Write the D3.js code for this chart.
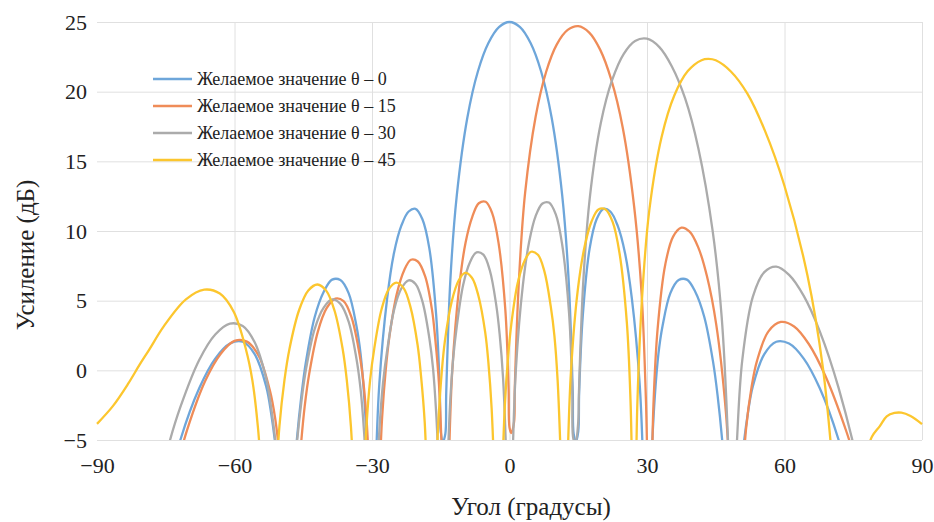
<!DOCTYPE html>
<html>
<head>
<meta charset="utf-8">
<script src="https://cdn.jsdelivr.net/npm/d3@7"></script>
<style>
	body { margin: 0; background: #fff; }
	svg text { font-family: "Liberation Serif", "Times New Roman", serif !important; fill: #222; }
</style>
</head>
<body>
<div id="visDiv"></div>
<script>
// legend labels, one per series
var seriesNames = ['Желаемое значение θ – 0', 'Желаемое значение θ – 15', 'Желаемое значение θ – 30', 'Желаемое значение θ – 45'];
var xTicks = [-90, -60, -30, 0, 30, 60, 90];
var yTicks = [-5, 0, 5, 10, 15, 20, 25];

// [angle (deg), gain (dB)]; values under -5 are clipped away
var gain0 = [[-90,-20],[-77.2,-11.9],[-71.8,-4.98],[-67.7,-1.29],[-64.2,0.84],[-61,1.92],[-58.2,2.05],[-55.6,1.16],[-53.1,-1.14],[-52,-3.1],[-50.8,-6.2],[-48.6,-15],
	[-46.5,-5.37],[-45.4,-1.8],[-44.4,0.64],[-42.5,3.83],[-40.5,5.66],[-38.7,6.51],[-36.9,6.48],[-35.1,5.54],[-33.4,3.2],[-32.5,1.2],[-31.7,-1.9],[-30.8,-7.6],[-30,-15],
	[-29.2,-7.1],[-28.4,-0.97],[-26.7,5.14],[-25.2,8.42],[-23.6,10.38],[-22,11.4],[-20.5,11.59],[-19,10.84],[-17.5,8.77],[-16,3.96],[-15.2,-1.54],[-15,-4.4],[-14.5,-5.1],[-14,-4.56],
	[-13.8,-1.56],[-12.9,6.51],[-11.5,12.56],[-9.2,18.13],[-6.9,21.45],[-4.6,23.49],[-2.3,24.63],[0,25],[2.3,24.63],[4.6,23.49],[6.9,21.45],[9.2,18.13],[11.5,12.56],[12.9,6.51],[13.8,-1.56],
	[14,-4.56],[14.5,-5.1],[15,-4.4],[15.2,-1.54],[16,3.96],[17.5,8.77],[19,10.84],[20.5,11.59],[22,11.4],[23.6,10.38],[25.2,8.42],[26.7,5.14],[28.4,-0.97],[29.2,-7.1],[30,-15],
	[30.8,-7.6],[31.7,-1.9],[32.5,1.2],[33.4,3.2],[35.1,5.54],[36.9,6.48],[38.7,6.51],[40.5,5.66],[42.5,3.83],[44.4,0.64],[45.4,-1.8],[46.5,-5.37],[48.6,-15],
	[50.8,-6.2],[52,-3.1],[53.1,-1.14],[55.6,1.16],[58.2,2.05],[61,1.92],[64.2,0.84],[67.7,-1.29],[71.8,-4.98],[77.2,-11.9],[90,-20]];

var gain15 = [[-90,-23.5],[-82.3,-15],[-75.1,-10.75],[-72.5,-6.84],[-70.3,-4.24],[-66.4,-0.77],[-63,1.19],[-60,2.11],[-57.3,2.06],[-54.7,1.03],[-52.3,-1.42],[-51.1,-3.5],[-50,-6.7],[-47.8,-15],
	[-45.7,-6.11],[-44.7,-2.63],[-43.7,-0.25],[-41.8,2.8],[-39.9,4.46],[-38,5.15],[-36.2,4.97],[-34.5,3.83],[-32.8,1.3],[-31.9,-0.78],[-31.1,-3.98],[-30.3,-9.8],[-29.4,-15],
	[-28.6,-9.5],[-27.8,-3.42],[-27,0.05],[-26.2,2.42],[-24.6,5.47],[-23,7.17],[-21.5,7.94],[-20,7.81],[-18.4,6.74],[-16.9,4.32],[-16.2,2.25],[-15.4,-0.9],[-14.7,-6.6],[-13.95,-15],
	[-13.2,-6.2],[-12.5,-0.1],[-11,5.91],[-9.6,9.14],[-8.1,11.03],[-6.7,11.99],[-5.2,12.1],[-3.8,11.3],[-2.4,9.17],[-0.9,4.3],[-0.2,-1.23],[0,-4.1],[0.4,-4.5],[1,-3.7],[1.15,-1.3],
	[2.1,6.72],[3.4,12.71],[5.7,18.2],[8,21.43],[10.3,23.38],[12.7,24.43],[15,24.7],[17.4,24.24],[19.8,23],[22.2,20.86],[24.7,17.43],[27.2,11.74],[28.8,5.62],[29.8,-2.49],[30.6,-15],
	[31.1,-6.7],[31.4,-2.53],[32.3,2.92],[34,7.62],[35.7,9.6],[37.5,10.24],[39.3,9.95],[41.2,8.81],[43.1,6.73],[45.1,3.3],[47.2,-2.95],[48.3,-9.2],[49.4,-15],
	[50.5,-9.8],[51.6,-4.23],[52.8,-1.23],[54,0.68],[56.5,2.8],[59.2,3.47],[62.1,3.15],[65.3,1.89],[69,-0.46],[73.5,-4.39],[76.3,-7.38],[79.7,-11.6],[90,-23.5]];

var gain30 = [[-90,-20],[-77.2,-9.2],[-74.3,-5.28],[-71.8,-2.63],[-67.7,0.74],[-64.2,2.57],[-61,3.35],[-58.2,3.18],[-55.6,2.01],[-53.1,-0.57],[-52,-2.68],[-50.8,-5.95],[-48.6,-15],
	[-46.5,-5.65],[-45.4,-2.24],[-44.4,0.07],[-42.5,2.98],[-40.5,4.52],[-38.7,5.09],[-36.9,4.77],[-35.1,3.5],[-33.4,0.85],[-32.5,-1.33],[-31.7,-4.58],[-30.8,-10.4],[-30,-15],
	[-29.2,-10.3],[-28.4,-4.33],[-27.6,-0.91],[-26.7,1.41],[-25.2,4.32],[-23.6,5.87],[-22,6.46],[-20.5,6.19],[-19,4.95],[-17.5,2.34],[-16.7,0.2],[-16,-3.04],[-15.2,-8.9],[-14.5,-15],
	[-13.7,-8.65],[-13,-2.64],[-12.3,0.81],[-11.5,3.15],[-10.1,6.15],[-8.6,7.78],[-7.2,8.47],[-5.7,8.3],[-4.3,7.18],[-2.9,4.7],[-2.15,2.6],[-1.4,-0.58],[-0.7,-6.33],[0,-15],
	[0.7,-6],[1.4,0.1],[2.9,6.06],[4.3,9.24],[5.7,11.07],[7.2,11.97],[8.6,12.04],[10.1,11.19],[11.5,9.01],[13,4.08],[13.7,-1.48],[14,-5],[14.4,-5.1],[15,-3.7],[15.15,-1.61],
	[16.1,6.38],[17.5,12.32],[19.9,17.71],[22.4,20.84],[24.9,22.7],[27.4,23.64],[30,23.8],[32.7,23.2],[35.4,21.83],[38.3,19.53],[41.2,15.94],[44.3,10.06],[46.3,3.8],[47.6,-4.4],[48.6,-15],
	[49.2,-8.8],[49.7,-4.61],[50.8,0.77],[53.1,5.29],[55.6,7.05],[58.2,7.44],[61,6.85],[64.2,5.34],[67.7,2.8],[71.8,-1.26],[77.2,-8.5],[80.9,-15.5],[90,-25]];

var gain45 = [[-90,-3.84],[-86.5,-2.55],[-83.2,-0.96],[-80.8,0.35],[-78.6,1.49],[-75.4,3.17],[-70.6,5.09],[-66.6,5.79],[-63.2,5.51],[-60.2,4.22],[-57.5,1.5],[-56.1,-0.72],[-54.9,-4.05],[-53.6,-9.96],[-52.5,-15],
	[-51.3,-9.9],[-50.2,-4.02],[-49.1,-0.7],[-48,1.55],[-45.9,4.33],[-43.9,5.73],[-41.9,6.16],[-40,5.72],[-38.2,4.31],[-36.4,1.53],[-35.5,-0.7],[-34.6,-4.02],[-33.7,-9.9],[-32.9,-15],
	[-32,-9.9],[-31.2,-3.99],[-30.4,-0.66],[-29.5,1.58],[-27.9,4.4],[-26.3,5.84],[-24.7,6.3],[-23.1,5.9],[-21.6,4.54],[-20.05,1.82],[-19.3,-0.41],[-18.5,-3.72],[-17.8,-9.6],[-17,-15],
	[-16.3,-9.5],[-15.5,-3.58],[-14.8,-0.2],[-14.1,2.09],[-12.6,4.95],[-11.1,6.45],[-9.7,6.99],[-8.2,6.65],[-6.8,5.37],[-5.3,2.72],[-4.6,0.54],[-3.9,-2.72],[-3.2,-8.55],[-2.5,-15],
	[-1.7,-8.4],[-1,-2.42],[-0.3,1],[0.4,3.32],[1.8,6.28],[3.3,7.87],[4.7,8.51],[6.2,8.29],[7.6,7.12],[9,4.59],[9.8,2.48],[10.5,-0.72],[11.2,-6.5],[11.95,-15],
	[12.7,-6.2],[13.4,-0.14],[14.9,5.77],[16.4,8.9],[17.9,10.68],[19.4,11.54],[20.9,11.56],[22.5,10.65],[24,8.42],[25.6,3.44],[26.4,-2.14],[26.7,-6.4],[27.2,-15],
	[27.9,-2.35],[29,5.61],[30.5,11.48],[33.2,16.76],[36,19.76],[38.9,21.48],[41.9,22.26],[43.4,22.35],[45,22.25],[48.3,21.45],[51.9,19.86],[55.7,17.22],[60,13.23],[65,6.82],[68.4,0.13],[71,-8.46],[73.2,-15],
	[75.8,-9.5],[77.7,-6.18],[79.1,-4.75],[80.8,-4],[82.3,-3.3],[84,-3.06],[85.5,-3.04],[87.5,-3.28],[90,-3.86]];

var seriesData = [gain0, gain15, gain30, gain45];
var colors = ['#6ea6da', '#ef8c58', '#ababab', '#fcc62e'];
var serif = '"Liberation Serif", "Times New Roman", serif';

var margin = {top: 22, right: 12, bottom: 82, left: 97},
	w = 934 - margin.left - margin.right,
	h = 522 - margin.top - margin.bottom;

var svg = d3.select('#visDiv')
	.append('svg')
		.attr('width', w + margin.left + margin.right)
		.attr('height', h + margin.top + margin.bottom)
		.attr('font-family', serif)
	.append('g')
		.attr('transform', 'translate(' + margin.left + ',' + margin.top + ')');

var x = d3.scaleLinear().domain([-90, 90]).range([0, w]);
var y = d3.scaleLinear().domain([-5, 25]).range([h, 0]);

// grid
svg.append('g')
	.attr('class', 'grid')
	.call(d3.axisLeft(y).tickValues(yTicks).tickSize(-w).tickFormat(''))
	.call(function(g) { g.select('.domain').remove(); });
svg.append('g')
	.attr('class', 'grid')
	.attr('transform', 'translate(0,' + h + ')')
	.call(d3.axisBottom(x).tickValues(xTicks.slice(1)).tickSize(-h).tickFormat(''))
	.call(function(g) { g.select('.domain').remove(); });
svg.selectAll('.grid line').style('stroke', '#e0e0e0').style('stroke-width', 1);

// axes labels
var xAxis = svg.append('g')
	.attr('transform', 'translate(0,' + h + ')')
	.call(d3.axisBottom(x).tickValues(xTicks).tickSize(0).tickPadding(17));
var yAxis = svg.append('g')
	.call(d3.axisLeft(y).tickValues(yTicks).tickSize(0).tickPadding(10));
xAxis.select('.domain').remove();
yAxis.select('.domain').remove();
xAxis.attr('font-family', serif);
yAxis.attr('font-family', serif);
svg.selectAll('.tick text').style('font-size', '22px').style('font-family', serif).style('fill', '#222');

// curves
svg.append('clipPath').attr('id', 'clip')
	.append('rect').attr('x', -2).attr('y', -10).attr('width', w + 4).attr('height', h + 10);

var line = d3.line()
	.x(function(d) { return x(d[0]); })
	.y(function(d) { return y(d[1]); })
	.curve(d3.curveCatmullRom.alpha(0.5));

svg.append('g').attr('clip-path', 'url(#clip)')
	.selectAll('path')
	.data(seriesData)
	.enter()
	.append('path')
		.attr('d', line)
		.style('fill', 'none')
		.style('stroke', function(d, i) { return colors[i]; })
		.style('stroke-width', 2.3);

// legend
var legend = svg.append('g').attr('transform', 'translate(56,57)');
var rows = legend.selectAll('g')
	.data(seriesNames)
	.enter()
	.append('g')
		.attr('transform', function(d, i) { return 'translate(0,' + i * 27 + ')'; });
rows.append('line')
	.attr('x1', 0).attr('x2', 39).attr('y1', 0).attr('y2', 0)
	.style('stroke', function(d, i) { return colors[i]; })
	.style('stroke-width', 2.6);
rows.append('text')
	.attr('x', 44).attr('dy', '0.33em')
	.style('font-family', serif)
	.style('font-size', '18px')
	.text(function(d) { return d; });

// axis titles
svg.append('text')
	.attr('x', 434).attr('y', h + 75)
	.style('text-anchor', 'middle')
	.style('font-family', serif)
	.style('font-size', '25px')
	.text('Угол (градусы)');
svg.append('text')
	.attr('transform', 'translate(' + (34 - margin.left) + ',' + (255 - margin.top) + ')rotate(-90)')
	.style('text-anchor', 'middle')
	.style('font-family', serif)
	.style('font-size', '25px')
	.text('Усиление (дБ)');
</script>
</body>
</html>
